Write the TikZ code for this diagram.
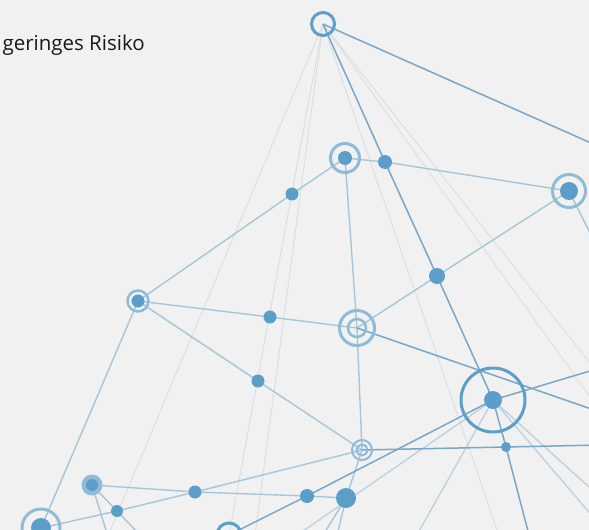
\documentclass[tikz,border=0pt]{standalone}
\usepackage{fontspec}
\setmainfont{Open Sans}
\definecolor{bgc}{HTML}{F1F1F1}
\definecolor{dotc}{HTML}{5B9EC9}
\definecolor{ringsoft}{HTML}{8EBBD8}
\definecolor{ringhard}{HTML}{5E9FCA}
\definecolor{linesoft}{HTML}{A8C5D8}
\definecolor{linehard}{HTML}{77A7C9}
\definecolor{linefaint}{HTML}{D8E0E6}
\tikzset{
  dot/.style={circle,fill=dotc,inner sep=0pt,minimum size=#1},
  ring/.style={circle,draw=ringsoft,line width=3pt,inner sep=0pt,minimum size=#1},
  hardring/.style={circle,draw=ringhard,line width=3pt,inner sep=0pt,minimum size=#1},
  soft/.style={draw=linesoft,line width=1.4pt},
  hard/.style={draw=linehard,line width=1.5pt},
  faint/.style={draw=linefaint,line width=1pt},
}
\begin{document}
\begin{tikzpicture}[x=1pt,y=-1pt]
\useasboundingbox (0,0) rectangle (589,530);
\fill[bgc] (0,0) rectangle (589,530);
\clip (0,0) rectangle (589,530);

% hub positions
\coordinate (T) at (323,24);
\coordinate (A) at (345,158);
\coordinate (B) at (385,162);
\coordinate (C) at (569,191);
\coordinate (D) at (292,194);
\coordinate (E) at (138,301);
\coordinate (F) at (270,317);
\coordinate (G) at (357,328);
\coordinate (H) at (437,276);
\coordinate (I) at (258,381);
\coordinate (J) at (493,400);
\coordinate (K) at (506,447);
\coordinate (L) at (362,450);
\coordinate (M) at (92,485);
\coordinate (N) at (195,492);
\coordinate (O) at (307,496);
\coordinate (P) at (346,498);
\coordinate (Q) at (117,511);
\coordinate (R) at (41,528);
\coordinate (S) at (229,535);

% loose ends leaving the frame
\coordinate (xT1) at (600,147);
\coordinate (xT2) at (102,550);
\coordinate (xT3) at (253,550);
\coordinate (xT4) at (504,550);
\coordinate (xT5) at (600,411);
\coordinate (xT6) at (600,376);
\coordinate (xK) at (529,535);
\coordinate (xG) at (600,412);
\coordinate (xJ) at (600,368);
\coordinate (xL) at (600,445);
\coordinate (xC) at (595,243);
\coordinate (xM) at (109,540);
\coordinate (xQ) at (145,540);
\coordinate (xP1) at (320,540);
\coordinate (xP2) at (336,540);
\coordinate (xP3) at (290,540);
\coordinate (xJ1) at (414,540);
\coordinate (xJ2) at (600,497);
\coordinate (xJ3) at (600,525);

% faint spokes
\draw[faint] (T) -- (xT2);
\draw[faint] (T) -- (S);
\draw[faint] (T) -- (xT3);
\draw[faint] (T) -- (xT4);
\draw[faint] (T) -- (xT5);
\draw[faint] (T) -- (xT6);

% light links
\draw[soft] (A) -- (B);
\draw[soft] (B) -- (C);
\draw[soft] (A) -- (D);
\draw[soft] (D) -- (E);
\draw[soft] (E) -- (F);
\draw[soft] (F) -- (G);
\draw[soft] (E) -- (I);
\draw[soft] (I) -- (L);
\draw[soft] (A) -- (G);
\draw[soft] (G) -- (L);
\draw[soft] (L) -- (P);
\draw[soft] (G) -- (H);
\draw[soft] (H) -- (C);
\draw[soft] (C) -- (xC);
\draw[soft] (E) -- (R);
\draw[soft] (R) -- (Q);
\draw[soft] (Q) -- (N);
\draw[soft] (M) -- (Q);
\draw[soft] (M) -- (N);
\draw[soft] (N) -- (O);
\draw[soft] (O) -- (P);
\draw[soft] (N) -- (L);
\draw[soft] (M) -- (xM);
\draw[soft] (Q) -- (xQ);
\draw[soft] (P) -- (xP1);
\draw[soft] (P) -- (xP2);
\draw[soft,draw opacity=0.7] (J) -- (xP3);
\draw[soft,draw opacity=0.7] (J) -- (xJ1);
\draw[soft,draw opacity=0.7] (J) -- (xJ2);
\draw[soft,draw opacity=0.7] (J) -- (xJ3);

% stronger links
\draw[hard] (T) -- (xT1);
\draw[hard] (T) -- (B);
\draw[hard] (B) -- (H);
\draw[hard] (H) -- (J);
\draw[hard] (J) -- (K);
\draw[hard] (K) -- (xK);
\draw[hard] (S) -- (O);
\draw[hard] (O) -- (J);
\draw[hard] (G) -- (xG);
\draw[hard] (J) -- (xJ);
\draw[hard] (L) -- (K);
\draw[hard] (K) -- (xL);

% hubs
\node[hardring=23pt] (nT) at (T) {};
\node[ring=29pt] (nA) at (A) {};
\node[dot=14pt] at (A) {};
\node[dot=14pt] (nB) at (B) {};
\node[ring=33pt] (nC) at (C) {};
\node[dot=18pt] at (C) {};
\node[dot=13pt] (nD) at (D) {};
\node[ring=21pt,line width=2.5pt] (nE) at (E) {};
\node[dot=13pt] at (E) {};
\node[dot=13pt] (nF) at (F) {};
\node[ring=35pt] (nG) at (G) {};
\node[ring=18pt,line width=2.5pt] at (G) {};
\node[dot=16pt] (nH) at (H) {};
\node[dot=13pt] (nI) at (I) {};
\node[hardring=64pt] (nJ) at (J) {};
\node[dot=18pt] at (J) {};
\node[dot=10pt] (nK) at (K) {};
\node[ring=20pt,line width=2pt] (nL) at (L) {};
\node[ring=11pt,line width=2pt] at (L) {};
\node[circle,fill=ringsoft,inner sep=0pt,minimum size=21pt] (nM) at (M) {};
\node[dot=12pt] at (M) {};
\node[dot=13pt] (nN) at (N) {};
\node[dot=14pt] (nO) at (O) {};
\node[dot=20pt] (nP) at (P) {};
\node[dot=12pt] (nQ) at (Q) {};
\node[ring=38pt] (nR) at (R) {};
\node[dot=20pt] at (R) {};
\node[hardring=24pt] (nS) at (S) {};

% caption
\node[anchor=base east,inner sep=0pt,font=\fontsize{20.5}{22}\selectfont,text=black!90] (cap) at (145,50) {geringes Risiko};
\end{tikzpicture}
\end{document}
